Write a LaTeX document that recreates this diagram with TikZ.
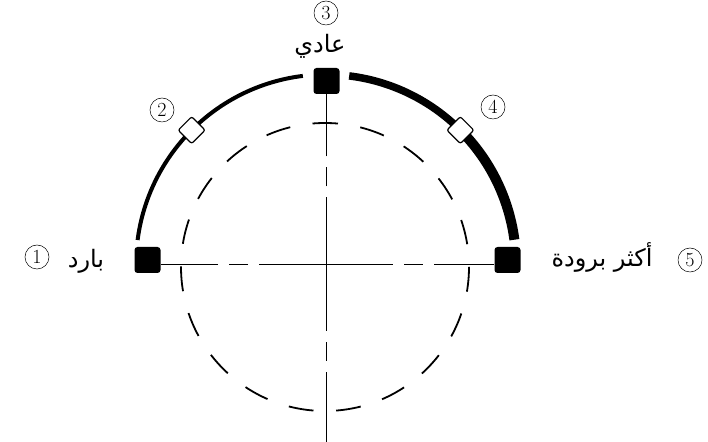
\documentclass[tikz,border=0pt]{standalone}
\usepackage{fontspec}
\usepackage{tikz}
\usetikzlibrary{positioning, calc}
\newfontfamily\arabicfont[Script=Arabic]{DejaVu Sans}
\TeXXeTstate=1

\tikzset{
    knob/.style={rectangle, fill=black, rounded corners=3pt, minimum size=26pt, inner sep=0pt},
    tick/.style={rectangle, draw, fill=white, line width=1.2pt, rounded corners=2pt, minimum size=19pt, inner sep=0pt, rotate=45},
    num/.style={circle, draw, line width=0.5pt, inner sep=0pt, minimum size=24pt, font=\fontsize{20}{20}\selectfont},
    lab/.style={anchor=base, font=\arabicfont\fontsize{24}{24}\selectfont},
    axis/.style={line width=0.9pt, dash pattern=on 134pt off 11pt on 19pt off 11pt, dash phase=67pt}
}

\begin{document}
\begin{tikzpicture}[x=1pt, y=1pt]
    \useasboundingbox (0, 0) rectangle (708, 441);
    \coordinate (c) at (326, 176.5);
    \coordinate (bot) at (326, -5);

    % 内圆 (虚线)
    \draw[line width=1.8pt, dash pattern=on 25pt off 22.6pt, dash phase=12.5pt]
        (325, 318) arc[start angle=90, end angle=450, radius=144];

    % 外弧
    \draw[line width=4pt] ([shift={(c)}]172.6:190) arc[start angle=172.6, end angle=97, radius=190];
    \draw[line width=7.5pt] ([shift={(c)}]83:190) arc[start angle=83, end angle=45, radius=190];
    \draw[line width=10pt] ([shift={(c)}]45:190) arc[start angle=45, end angle=7.5, radius=190];

    % 刻度块
    \node[knob] (sqL) at (147.5, 181) {};
    \node[knob] (sqR) at (507.5, 181) {};
    \node[knob] (sqT) at (326.5, 360) {};
    \node[tick] (dL) at ($(c)+(135:190)$) {};
    \node[tick] (dR) at ($(c)+(45:190)$) {};

    % 中心线
    \draw[axis] (c) -- (c -| sqL.east);
    \draw[axis] (c) -- (c -| sqR.west);
    \draw[axis] (c) -- (c |- sqT.south);
    \draw[axis] (c) -- (bot);

    % 编号
    \foreach \n/\x/\y in {1/37/184, 2/162/331, 3/326/428, 4/493/334, 5/690/181} {
        \node[num] (n\n) at (\x, \y) {\n};
    }

    % 文字
    \node[lab] (cold) at (86, 173) {\beginR بارد\endR};
    \node[lab] (normal) at (320, 388) {\beginR عادي\endR};
    \node[lab] (colder) at (602, 174) {\beginR أكثر برودة\endR};
\end{tikzpicture}
\end{document}
